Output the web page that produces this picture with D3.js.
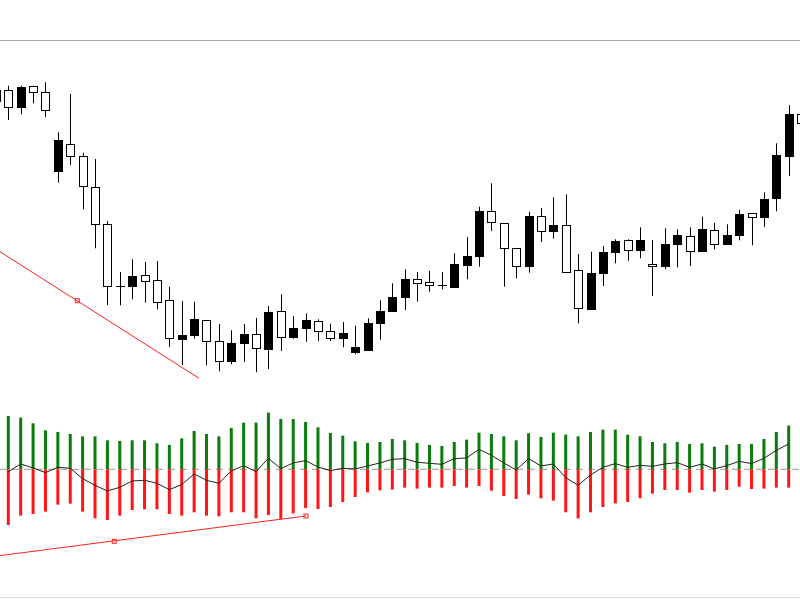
<!DOCTYPE html>
<meta charset="utf-8">
<style>
body { margin: 0; background: #fff; }
.wick { stroke: #000; stroke-width: 1px; }
.body { stroke: #000; stroke-width: 1px; shape-rendering: crispEdges; }
.trend { stroke: #ff2020; stroke-width: 1px; fill: none; }
</style>
<body>
<script src="https://d3js.org/d3.v7.min.js"></script>
<script>

// candle data, first candle (index -1) is clipped at the left edge
var opens = [298.3,309.3,292.3,313.3,307.3,228.7,255.7,243.3,212.7,176,114,114,124.7,119.7,99.7,60.7,65,79.7,58.3,39,56.7,65.7,51,88.7,62.7,71.3,79,68.7,61.3,47.7,50,76.7,89,102.3,120.7,117.3,114.7,113,134.7,143.3,188.7,177,152,133.3,183.7,169,174.7,129.7,91,126.3,148,159.7,149.7,135.7,133.3,156,164,148.7,169.7,155.7,164.7,186.3,182.3,201.7,243.3,286];
var highs = [312,314.3,314.3,314.3,317.7,267.7,306,247.3,241,179,128,140.7,138,139,113.3,99,98.3,79.7,76,69.7,76,82,94,105.7,84,86.7,80.7,76.3,78,74.3,81.7,99.7,116.7,130.7,128,129,128,146.7,163,193.3,216.7,177,152,188.3,192,202.7,205.7,146,148.3,154,160.7,160.7,172.7,160,171.7,170.7,172.7,183.3,177,175.7,190.3,186.3,207.7,256.7,295,290];
var lows = [296,280,285.7,296.7,283,217.3,235,190.7,151.7,95,94.7,100.7,97.3,90.7,53,35,61.3,34.7,28.7,35.7,38,27.7,31,49,61.3,58.3,59,59,52.7,45.7,50,60.3,89,90,98.3,108.3,110.7,113,120.7,133.3,169,113.3,121.7,127.3,158,161.3,128,76.7,90,114,136.7,139.3,141.7,104,130.7,132.7,134,148.7,150.7,155.7,159.7,154.7,173,188.7,224,270];
var closes = [309.3,292.3,312.7,308,289.3,260,243.7,213.3,176,114,114,124,118.7,97.3,61.7,64.7,80.3,58.3,39,57,65.3,51.7,87.7,62.7,71.3,79.3,68.3,61.3,67,52.3,77,88.7,102.7,120.7,116.7,114.7,114.7,135.7,143.7,188.7,177.7,151.7,134,184,168.7,174.7,128,91.3,126.7,148,159,149.7,159.7,133.7,155.3,164.7,148.7,170.7,155.7,164.7,185.3,182.3,201,244.3,285.7,277];

// volume-like histogram, buy side and sell side
var upVals = [160,155,138,117,112,106,99,99,87,85,87,87,78,73,93,115,106,99,124,140,140,170,151,151,142,126,109,101,84,79,82,91,87,79,73,70,82,89,110,106,99,87,108,97,110,104,99,112,119,119,104,99,82,78,82,76,78,68,73,76,76,91,112,131];
var downVals = [167,139,134,127,106,103,127,147,152,139,122,120,120,134,139,129,139,141,129,129,147,137,149,132,116,119,113,98,83,69,63,61,55,58,55,55,50,55,50,64,80,89,76,87,94,129,147,129,113,102,98,87,73,62,62,70,62,67,62,52,59,58,55,55];

// drawn trend lines: [bar index, value]
var priceTrend = [[-0.67, 148.3], [15.4, 21.7]];
var priceTrendMarks = [[5.57, 99.3]];
var histTrend = [[-0.67, -259], [24.03, -140]];
var histTrendMarks = [[8.55, -216], [24.03, -140]];

var width = 800, height = 600;

var svg = d3.select("body").append("svg")
  .attr("width", width).attr("height", height);

var x = d3.scaleLinear().domain([0, 63]).range([8.3, 788.7]);
var y = d3.scaleLinear().domain([0, 360]).range([400, 40]);
var yh = d3.scaleLinear().domain([-180, 180]).range([529.3, 409.3]);

// frame lines
svg.append("line").attr("x1", 0).attr("x2", width).attr("y1", 40.5).attr("y2", 40.5)
  .attr("stroke", "#aaa");
svg.append("line").attr("x1", 0).attr("x2", width).attr("y1", 597.5).attr("y2", 597.5)
  .attr("stroke", "#ddd");

// candles
var candles = opens.map(function(o, i) {
  return {i: i - 1, o: o, h: highs[i], l: lows[i], c: closes[i]};
});

var cg = svg.selectAll(".candle").data(candles).enter().append("g");
cg.append("line").attr("class", "wick")
  .attr("x1", function(d) { return Math.round(x(d.i)) + 0.5; })
  .attr("x2", function(d) { return Math.round(x(d.i)) + 0.5; })
  .attr("y1", function(d) { return y(d.h); })
  .attr("y2", function(d) { return y(d.l); });
cg.append("rect").attr("class", "body")
  .attr("x", function(d) { return Math.round(x(d.i)) - 3.5; })
  .attr("width", 8)
  .attr("y", function(d) { return y(Math.max(d.o, d.c)); })
  .attr("height", function(d) { return Math.max(0.5, Math.abs(y(d.o) - y(d.c))); })
  .attr("fill", function(d) { return d.c > d.o ? "#000" : "#fff"; });

// price trend line
svg.append("path").attr("class", "trend")
  .attr("d", d3.line().x(function(d) { return x(d[0]); }).y(function(d) { return y(d[1]); })(priceTrend));
svg.selectAll(".pmark").data(priceTrendMarks).enter().append("rect")
  .attr("class", "trend").attr("fill", "#fff")
  .attr("x", function(d) { return x(d[0]) - 2; }).attr("y", function(d) { return y(d[1]) - 2; })
  .attr("width", 4).attr("height", 4);

// histogram panel
svg.append("line").attr("x1", 0).attr("x2", width)
  .attr("y1", yh(0)).attr("y2", yh(0))
  .attr("stroke", "#999").attr("stroke-dasharray", "7,5");

svg.selectAll(".up").data(upVals).enter().append("rect")
  .attr("x", function(d, i) { return x(i) - 1.5; }).attr("width", 3)
  .attr("y", function(d) { return yh(d); })
  .attr("height", function(d) { return yh(0) - yh(d); })
  .attr("fill", "#0a7d0a");

svg.selectAll(".down").data(downVals).enter().append("rect")
  .attr("x", function(d, i) { return x(i) - 1.5; }).attr("width", 3)
  .attr("y", yh(0))
  .attr("height", function(d) { return yh(-d) - yh(0); })
  .attr("fill", "#ff1515");

// net line = up - down
var net = upVals.map(function(u, i) { return u - downVals[i]; });
svg.append("path")
  .attr("fill", "none").attr("stroke", "#222").attr("stroke-width", 1)
  .attr("d", d3.line().x(function(d, i) { return x(i); }).y(function(d) { return yh(d); })(net));

svg.append("path").attr("class", "trend")
  .attr("d", d3.line().x(function(d) { return x(d[0]); }).y(function(d) { return yh(d[1]); })(histTrend));
svg.selectAll(".hmark").data(histTrendMarks).enter().append("rect")
  .attr("class", "trend").attr("fill", "#fff")
  .attr("x", function(d) { return x(d[0]) - 2; }).attr("y", function(d) { return yh(d[1]) - 2; })
  .attr("width", 4).attr("height", 4);

</script>
</body>
